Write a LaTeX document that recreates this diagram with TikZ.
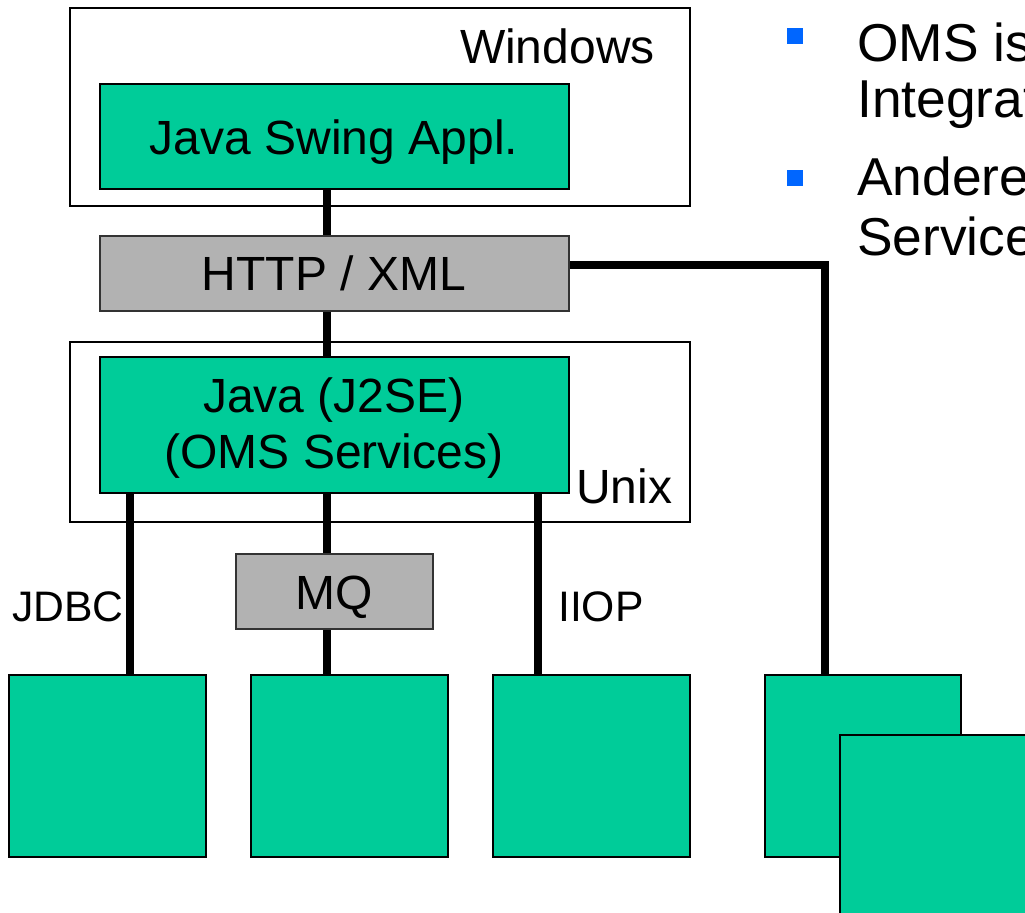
\documentclass[tikz,border=0pt]{standalone}
\usepackage{fontspec}
\setmainfont{Liberation Sans}
\usetikzlibrary{fit}
\definecolor{boxgreen}{HTML}{00CC99}
\definecolor{boxgray}{HTML}{B2B2B2}
\definecolor{bulletblue}{HTML}{0066FF}
\begin{document}
\begin{tikzpicture}[x=0.75pt,y=-0.75pt,
  frame/.style={draw=black, line width=1.5pt, fill=white, inner sep=0pt},
  greenbox/.style={draw=black, line width=1.5pt, fill=boxgreen, inner sep=0pt},
  graybox/.style={draw=black!80, line width=1.5pt, fill=boxgray, inner sep=0pt},
  conn/.style={line width=6pt},
  big/.style={font=\fontsize{36}{42}\selectfont, inner sep=0pt, anchor=base},
  small/.style={font=\fontsize{32}{38}\selectfont, inner sep=0pt, anchor=base},
  bultext/.style={font=\fontsize{40}{48}\selectfont, inner sep=0pt, anchor=base west},
  bullet/.style={fill=bulletblue, draw=none, inner sep=0pt, minimum size=12pt}]
\useasboundingbox (0,0) rectangle (1025,913);
\clip (0,0) rectangle (1025,913);

% column coordinates
\coordinate (c1) at (130,0);
\coordinate (c2) at (327,0);
\coordinate (c3) at (538,0);
\coordinate (c4) at (825,265);

% frames
\node[frame, fit={(70,8) (690,206)}] (win) {};
\node[frame, fit={(70,342) (690,522)}] (unix) {};

% boxes
\node[greenbox, fit={(100,84) (569,189)}] (swing) {};
\node[graybox, fit={(100,236) (569,311)}] (http) {};
\node[greenbox, fit={(100,357) (569,493)}] (j2se) {};
\node[graybox, fit={(236,554) (433,629)}] (mq) {};
\node[greenbox, fit={(9,675) (206,857)}] (b1) {};
\node[greenbox, fit={(251,675) (448,857)}] (b2) {};
\node[greenbox, fit={(493,675) (690,857)}] (b3) {};
\node[greenbox, fit={(765,675) (961,857)}] (b4) {};
\node[greenbox, fit={(840,735) (1040,930)}] (b5) {};

% connectors
\draw[conn] (swing.south -| c2) -- (http.north -| c2);
\draw[conn] (http.south -| c2) -- (j2se.north -| c2);
\draw[conn] (http.east |- c4) -- (c4) -- (b4.north -| c4);
\draw[conn] (j2se.south -| c1) -- (b1.north -| c1);
\draw[conn] (j2se.south -| c2) -- (mq.north -| c2);
\draw[conn] (mq.south -| c2) -- (b2.north -| c2);
\draw[conn] (j2se.south -| c3) -- (b3.north -| c3);

% labels
\node[big, anchor=base east] (twin) at (655,64) {Windows};
\node[big] (tswing) at (334,155) {Java Swing Appl.};
\node[big] (thttp) at (334,290) {HTTP / XML};
\node[big] (tj1) at (334,412) {Java (J2SE)};
\node[big] (tj2) at (334,468) {(OMS Services)};
\node[big, anchor=base west] (tunix) at (576,503) {Unix};
\node[big] (tmq) at (334,609) {MQ};
\node[small, anchor=base east] (tjdbc) at (124,621) {JDBC};
\node[small, anchor=base west] (tiiop) at (558,621) {IIOP};

% bullet text
\node[bullet] (bu1) at (795,36) {};
\node[bultext] (l1) at (857,62) {OMS is};
\node[bultext] (l2) at (857,118) {Integrat};
\node[bullet] (bu2) at (795,178) {};
\node[bultext] (l3) at (857,196) {Andere};
\node[bultext] (l4) at (857,256) {Service};
\end{tikzpicture}
\end{document}
